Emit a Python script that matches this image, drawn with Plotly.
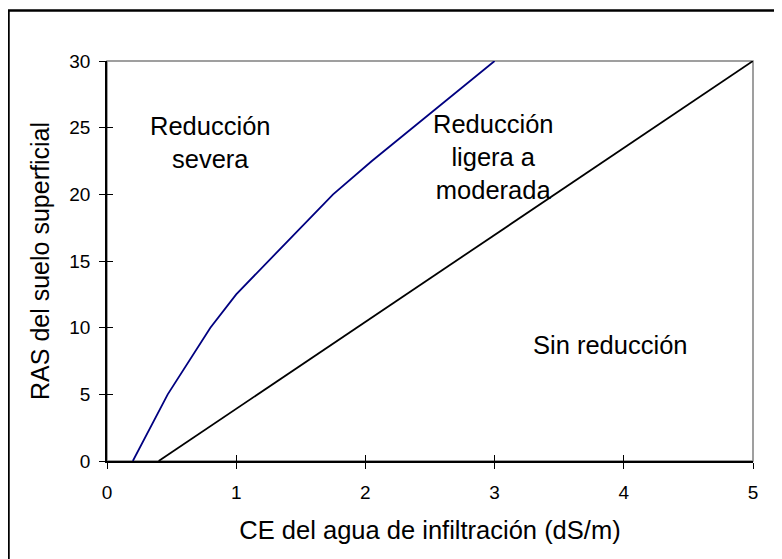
import plotly.graph_objects as go

# Data
severa_x = [0.2, 0.47, 0.8, 1.0, 1.75, 2.05, 3.0]
severa_y = [0, 5, 10, 12.5, 20, 22.5, 30]
sin_x = [0.4, 5.0]
sin_y = [0, 30]
x_ticks = [0, 1, 2, 3, 4, 5]
y_ticks = [0, 5, 10, 15, 20, 25, 30]

FONT = "Liberation Sans, Arial, sans-serif"

fig = go.Figure()
fig.add_trace(go.Scatter(x=severa_x, y=severa_y, mode="lines",
                         line=dict(color="#000080", width=1.8), showlegend=False,
                         hoverinfo="skip"))
fig.add_trace(go.Scatter(x=sin_x, y=sin_y, mode="lines",
                         line=dict(color="black", width=1.8), showlegend=False,
                         hoverinfo="skip"))
# dummy trace for the overlay axes (inner half of the crossing ticks)
fig.add_trace(go.Scatter(x=[None], y=[None], xaxis="x2", yaxis="y2",
                         showlegend=False, hoverinfo="skip"))

annots = [
    dict(x=0.8, y=23.9, text="Reducción<br>severa"),
    dict(x=2.99, y=22.8, text="Reducción<br>ligera a<br>moderada"),
    dict(x=3.9, y=8.7, text="Sin reducción"),
]
for a in annots:
    fig.add_annotation(x=a["x"], y=a["y"], text=a["text"], showarrow=False,
                       xref="x", yref="y", align="center",
                       font=dict(family=FONT, size=25.5, color="black"))

fig.update_layout(
    width=782, height=559,
    margin=dict(l=99, r=37, t=53, b=106),
    paper_bgcolor="white", plot_bgcolor="white",
    font=dict(family=FONT, color="black"),
    xaxis=dict(range=[0, 5], tickvals=x_ticks, ticks="outside", ticklen=6,
               tickcolor="black", tickwidth=1, showline=True, linecolor="black",
               linewidth=1.5, showgrid=False, zeroline=False,
               ticklabelstandoff=7,
               tickfont=dict(size=19, family=FONT),
               title=dict(text="CE del agua de infiltración (dS/m)",
                          font=dict(size=25.5, family=FONT), standoff=20)),
    yaxis=dict(range=[0, 30], tickvals=y_ticks, ticks="outside", ticklen=6,
               tickcolor="black", tickwidth=1, showline=True, linecolor="black",
               linewidth=1.5, showgrid=False, zeroline=False,
               ticklabelstandoff=5,
               tickfont=dict(size=19, family=FONT),
               title=dict(text="RAS del suelo superficial",
                          font=dict(size=25, family=FONT), standoff=13)),
    xaxis2=dict(range=[0, 5], tickvals=x_ticks, ticks="inside", ticklen=6,
                tickcolor="black", overlaying="x", anchor="y", side="bottom",
                showticklabels=False, showline=False, showgrid=False, zeroline=False),
    yaxis2=dict(range=[0, 30], tickvals=y_ticks, ticks="inside", ticklen=6,
                tickcolor="black", overlaying="y", anchor="x", side="left",
                showticklabels=False, showline=False, showgrid=False, zeroline=False),
    shapes=[
        dict(type="rect", xref="paper", yref="paper", x0=0, x1=1, y0=0, y1=1,
             line=dict(color="#808080", width=1.5), layer="below"),
        dict(type="rect", xref="paper", yref="paper", x0=-0.1525, x1=1.06,
             y0=-0.26, y1=1.126, line=dict(color="black", width=2.5),
             layer="below"),
    ],
)

fig.write_html("out.html")
